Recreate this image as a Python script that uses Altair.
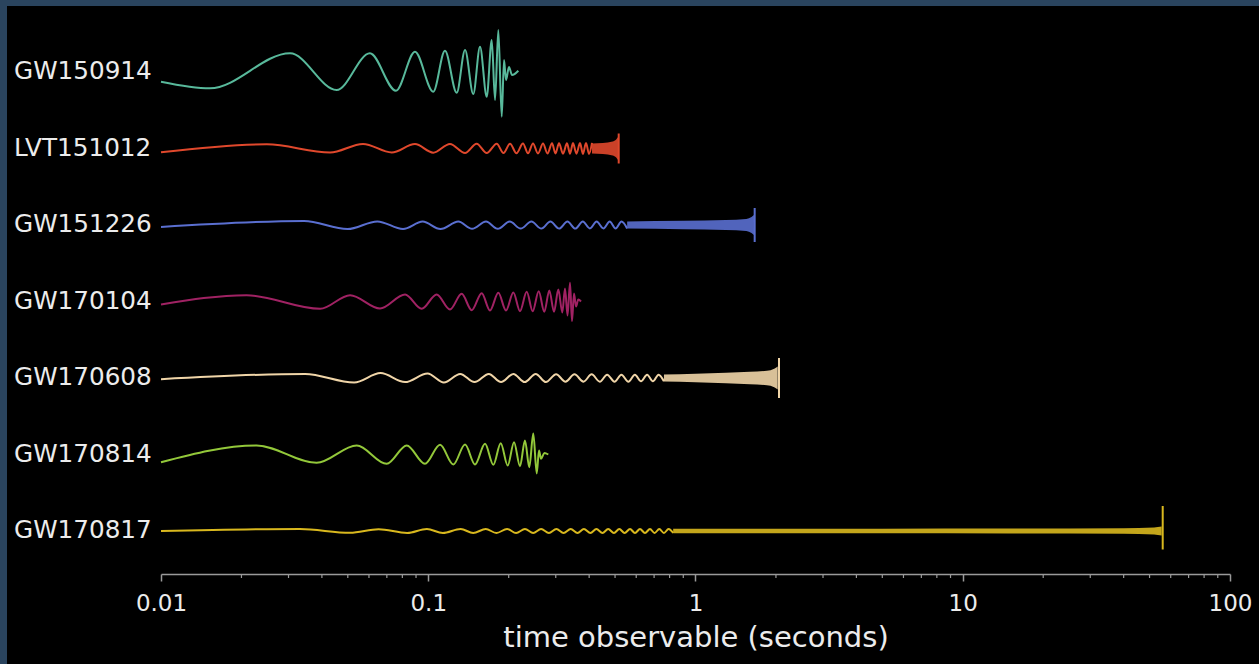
import altair as alt
import pandas as pd

EVENTS = ["GW150914", "LVT151012", "GW151226", "GW170104", "GW170608", "GW170814", "GW170817"]
COLORS = ["#58b99b", "#e0482c", "#5a6fd0", "#a02263", "#f0d5a8", "#93c83a", "#d9b81e"]

TICKS_MAJOR = [0.01, 0.1, 1, 10, 100]
TICKS_MINOR = [0.02, 0.03, 0.04, 0.05, 0.06, 0.07, 0.08, 0.09,
               0.2, 0.3, 0.4, 0.5, 0.6, 0.7, 0.8, 0.9,
               2, 3, 4, 5, 6, 7, 8, 9,
               20, 30, 40, 50, 60, 70, 80, 90]

# waveform turning points: time (s) and relative strain
T_GW150914 = [0.0100, 0.01525, 0.0304, 0.0454, 0.0605, 0.0757, 0.0892, 0.1044, 0.1155, 0.1278,
              0.1373, 0.1474, 0.1562, 0.1655, 0.1728, 0.1778, 0.1829, 0.1883, 0.1921, 0.1954,
              0.2005, 0.2058, 0.2173]
A_GW150914 = [-0.97, -1.63, 1.87, -1.8, 1.87, -1.87, 2.03, -1.97, 2.13, -2.07,
              2.2, -2.2, 2.53, -2.47, 3.2, -2.8, 4.2, -4.47, 1.2, -0.8,
              0.5, -0.3, 0.13]

T_LVT151012 = [0.0100, 0.0249, 0.0429, 0.0570, 0.0730, 0.0892, 0.1044, 0.1206, 0.1373, 0.1518,
               0.1655, 0.1804, 0.1912, 0.2023, 0.2139, 0.2262, 0.2362, 0.2466, 0.2574, 0.2688,
               0.2794, 0.2905, 0.2993, 0.3085, 0.3193, 0.3305, 0.3392, 0.3480, 0.3586, 0.3696,
               0.3793, 0.3893, 0.3995, 0.4100]
A_LVT151012 = [-0.38, 0.42, -0.40, 0.46, -0.40, 0.44, -0.42, 0.46, -0.44, 0.48,
               -0.46, 0.48, -0.46, 0.48, -0.48, 0.50, -0.48, 0.50, -0.50, 0.50,
               -0.50, 0.52, -0.50, 0.52, -0.52, 0.52, -0.52, 0.54, -0.52, 0.54,
               -0.54, 0.56, -0.54, 0.56]

T_GW151226 = [0.0100, 0.0343, 0.0499, 0.0645, 0.0805, 0.0953, 0.1111, 0.1296, 0.1459, 0.1645,
              0.1821, 0.2018, 0.2218, 0.2432, 0.2649, 0.2865, 0.3088, 0.3317, 0.3550, 0.3787,
              0.4026, 0.4266, 0.4523, 0.4775, 0.5023, 0.5286, 0.5547]
A_GW151226 = [-0.2, 0.4, -0.4, 0.36, -0.4, 0.34, -0.4, 0.34, -0.38, 0.34,
              -0.38, 0.34, -0.36, 0.34, -0.36, 0.34, -0.36, 0.34, -0.36, 0.34,
              -0.34, 0.34, -0.34, 0.34, -0.34, 0.34, -0.34]

T_GW170104 = [0.0100, 0.0209, 0.0394, 0.0510, 0.0660, 0.0819, 0.0945, 0.1075, 0.1206, 0.1334,
              0.1454, 0.1585, 0.1702, 0.1829, 0.1954, 0.2082, 0.2204, 0.2336, 0.2459, 0.2590,
              0.2718, 0.2838, 0.2955, 0.3067, 0.3174, 0.3249, 0.3320, 0.3392, 0.3450, 0.3510,
              0.3572, 0.3643, 0.3729]
A_GW170104 = [-0.3, 0.63, -0.73, 0.63, -0.7, 0.7, -0.73, 0.7, -0.8, 0.77,
              -0.87, 0.83, -0.9, 0.87, -0.9, 0.9, -0.97, 0.97, -0.97, 1.03,
              -1.03, 1.1, -1.03, 1.2, -1.1, 1.3, -1.4, 1.87, -1.97, 0.8,
              -0.5, 0.2, 0.0]

T_GW170608 = [0.0100, 0.0346, 0.0528, 0.0663, 0.0819, 0.0994, 0.1144, 0.1317, 0.1490, 0.1685,
              0.1872, 0.2082, 0.2295, 0.2524, 0.2756, 0.3009, 0.3263, 0.3525, 0.3810, 0.4086,
              0.4384, 0.4670, 0.4977, 0.5281, 0.5609, 0.5932, 0.6253, 0.6591, 0.6928, 0.7277,
              0.7618]
A_GW170608 = [-0.12, 0.41, -0.45, 0.49, -0.41, 0.45, -0.45, 0.41, -0.41, 0.41,
              -0.41, 0.41, -0.41, 0.41, -0.41, 0.37, -0.37, 0.37, -0.37, 0.37,
              -0.37, 0.33, -0.37, 0.33, -0.37, 0.33, -0.33, 0.33, -0.33, 0.33,
              -0.33]

T_GW170814 = [0.0100, 0.0228, 0.0382, 0.0540, 0.0699, 0.0831, 0.0972, 0.1107, 0.1241, 0.1373,
              0.1496, 0.1631, 0.1752, 0.1867, 0.1983, 0.2094, 0.2204, 0.2301, 0.2388, 0.2472,
              0.2546, 0.2597, 0.2642, 0.2720, 0.2813]
A_GW170814 = [-0.77, 0.9, -0.83, 0.9, -0.93, 0.9, -0.93, 0.97, -1.0, 1.0,
              -1.0, 1.07, -1.03, 1.13, -1.1, 1.23, -1.17, 1.4, -1.27, 2.1,
              -1.9, 0.4, -0.43, 0.15, 0.0]

T_GW170817 = [0.0100, 0.0331, 0.0510, 0.0652, 0.0834, 0.0988, 0.1134, 0.1322, 0.1473, 0.1641,
              0.1799, 0.1972, 0.2132, 0.2301, 0.2470, 0.2644, 0.2828, 0.3017, 0.3209, 0.3412,
              0.3618, 0.3823, 0.4044, 0.4258, 0.4487, 0.4713, 0.4952, 0.5187, 0.5429, 0.5688,
              0.5937, 0.6198, 0.6471, 0.6756, 0.7029, 0.7320, 0.7618, 0.7930, 0.8252]
A_GW170817 = [0.0, 0.20, -0.18, 0.18, -0.20, 0.20, -0.20, 0.20, -0.20, 0.20,
              -0.20, 0.20, -0.20, 0.20, -0.20, 0.20, -0.20, 0.20, -0.20, 0.20,
              -0.20, 0.20, -0.20, 0.20, -0.20, 0.20, -0.20, 0.20, -0.20, 0.20,
              -0.20, 0.20, -0.20, 0.20, -0.20, 0.20, -0.20, 0.20, -0.20]

# unresolved fast oscillations: envelope half-width over time
BT_LVT151012 = [0.410, 0.450, 0.490, 0.505, 0.513]
BA_LVT151012 = [0.50, 0.55, 0.70, 0.90, 1.15]
BT_GW151226 = [0.555, 0.90, 1.30, 1.55, 1.62, 1.655]
BA_GW151226 = [0.36, 0.42, 0.50, 0.60, 0.80, 1.00]
BT_GW170608 = [0.762, 1.0, 1.3, 1.6, 1.85, 1.97, 2.03]
BA_GW170608 = [0.35, 0.42, 0.52, 0.62, 0.72, 0.92, 1.15]
BT_GW170817 = [0.825, 2.0, 5.0, 15.0, 40.0, 52.0, 55.5]
BA_GW170817 = [0.22, 0.23, 0.23, 0.24, 0.28, 0.35, 0.45]

# final spike: time, upper, lower
SPIKE_EVENTS = ["LVT151012", "GW151226", "GW170608", "GW170817"]
SPIKE_T = [0.516, 1.665, 2.053, 56.0]
SPIKE_UP = [1.5, 1.7, 2.0, 2.5]
SPIKE_DOWN = [1.5, 1.7, 2.0, 1.85]

WAVES = {
    "GW150914": (T_GW150914, A_GW150914),
    "LVT151012": (T_LVT151012, A_LVT151012),
    "GW151226": (T_GW151226, A_GW151226),
    "GW170104": (T_GW170104, A_GW170104),
    "GW170608": (T_GW170608, A_GW170608),
    "GW170814": (T_GW170814, A_GW170814),
    "GW170817": (T_GW170817, A_GW170817),
}
BANDS = {
    "LVT151012": (BT_LVT151012, BA_LVT151012),
    "GW151226": (BT_GW151226, BA_GW151226),
    "GW170608": (BT_GW170608, BA_GW170608),
    "GW170817": (BT_GW170817, BA_GW170817),
}

ROW_TOP = 6.2
ROW_GAP = 7.65
CENTER = {ev: -(ROW_TOP + ROW_GAP * i) for i, ev in enumerate(EVENTS)}

line_rows = []
for ev in EVENTS:
    t, a = WAVES[ev]
    for k, (tt, aa) in enumerate(zip(t, a)):
        line_rows.append({"event": ev, "t": tt, "y": CENTER[ev] + aa, "k": k})
line_df = pd.DataFrame(line_rows)

band_rows = []
for ev, (t, a) in BANDS.items():
    for tt, aa in zip(t, a):
        band_rows.append({"event": ev, "t": tt, "hi": CENTER[ev] + aa, "lo": CENTER[ev] - aa})
band_df = pd.DataFrame(band_rows)

spike_df = pd.DataFrame({
    "event": SPIKE_EVENTS,
    "t": SPIKE_T,
    "hi": [CENTER[e] + u for e, u in zip(SPIKE_EVENTS, SPIKE_UP)],
    "lo": [CENTER[e] - d for e, d in zip(SPIKE_EVENTS, SPIKE_DOWN)],
})
label_df = pd.DataFrame({"event": EVENTS, "y": [CENTER[e] for e in EVENTS]})
minor_df = pd.DataFrame({"t": TICKS_MINOR})

W, H = 1069, 564
AXIS_COLOR = "#9a9a9a"
TEXT_COLOR = "#ececec"

x_scale = alt.Scale(type="log", domain=[0.01, 100], nice=False)
x_axis = alt.Axis(values=TICKS_MAJOR, format="~g", title="time observable (seconds)",
                  grid=False, labelFlush=False, tickSize=7, tickWidth=1.5, tickColor=AXIS_COLOR,
                  domainColor=AXIS_COLOR, domainWidth=1.5, labelColor=TEXT_COLOR,
                  labelFontSize=23, labelPadding=11, labelFont="DejaVu Sans",
                  titleFont="DejaVu Sans", titleFontSize=29, titleFontWeight="normal",
                  titleColor=TEXT_COLOR, titlePadding=8, zindex=2)
X = alt.X("t:Q", scale=x_scale, axis=x_axis)
y_scale = alt.Scale(domain=[-56.4, 0], nice=False, zero=False)
color = alt.Color("event:N", scale=alt.Scale(domain=EVENTS, range=COLORS), legend=None)

bg = alt.Chart(pd.DataFrame({"a": [0]})).mark_rect(color="#000000").encode(
    x=alt.value(7 - 161), x2=alt.value(1259 - 161),
    y=alt.value(6 - 10), y2=alt.value(664 - 10))

bands = alt.Chart(band_df).mark_area(interpolate="monotone", opacity=0.9).encode(
    x=X, y=alt.Y("hi:Q", scale=y_scale, axis=None), y2="lo:Q", color=color, detail="event:N")

lines = alt.Chart(line_df).mark_line(interpolate="monotone", strokeWidth=2).encode(
    x=X, y=alt.Y("y:Q", scale=y_scale, axis=None), color=color, detail="event:N",
    order="k:Q")

spikes = alt.Chart(spike_df).mark_rule(strokeWidth=2).encode(
    x=X, y=alt.Y("hi:Q", scale=y_scale, axis=None), y2="lo:Q", color=color)

labels = alt.Chart(label_df).mark_text(align="left", baseline="middle", fontSize=24.7,
                                       font="DejaVu Sans", color=TEXT_COLOR).encode(
    x=alt.value(14 - 161), y=alt.Y("y:Q", scale=y_scale, axis=None), text="event:N")

minor = alt.Chart(minor_df).mark_rule(color=AXIS_COLOR, strokeWidth=1.2).encode(
    x=X, y=alt.value(H), y2=alt.value(H + 4))

chart = alt.layer(bg, bands, lines, spikes, minor, labels).properties(
    width=W, height=H,
    padding={"left": 161, "top": 10, "right": 29, "bottom": 90},
    autosize=alt.AutoSizeParams(type="none"),
    background="#2a445e",
).configure_view(stroke=None).configure(font="DejaVu Sans")

chart.save("out.html", embed_options={"renderer": "svg", "actions": False})
